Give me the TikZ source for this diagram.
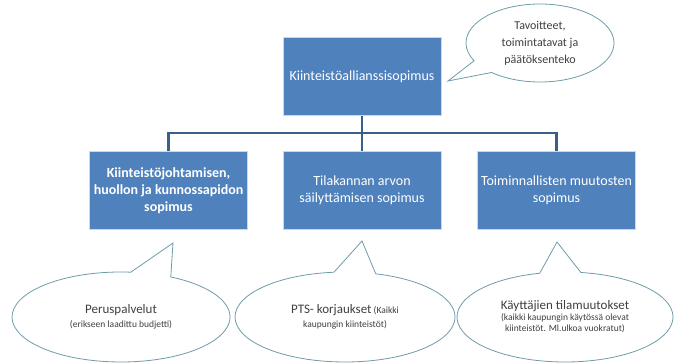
\documentclass[tikz,border=0pt]{standalone}
\usepackage{fontspec}
\setmainfont{Carlito}
\usetikzlibrary{shapes.callouts}
\definecolor{boxblue}{HTML}{4F81BD}
\definecolor{linkblue}{HTML}{3A5F8B}
\definecolor{bubble}{HTML}{6E9CA8}
\definecolor{halo}{HTML}{C6D9F1}
\definecolor{bubbletext}{HTML}{404040}
\begin{document}
\begin{tikzpicture}[x=1pt,y=-1pt,
  box/.style={rectangle, fill=boxblue, draw=halo, line width=1pt,
    minimum width=158pt, minimum height=78pt, inner sep=1pt, align=center,
    text=white, font=\fontsize{14}{17}\selectfont},
  bubbleshape/.style={ellipse callout, draw=bubble, fill=white, line width=0.8pt,
    callout pointer arc=22, inner sep=0pt, align=center, text=bubbletext},
  link/.style={draw=linkblue, line width=2.5pt}]
\useasboundingbox (0,0) rectangle (675,363);
% boxes
\node[box] (top) at (362,77) {Kiinteistöallianssisopimus};
\node[box, font=\fontsize{14}{17}\selectfont\bfseries] (b1) at (168.5,190.5) {Kiinteistöjohtamisen,\\huollon ja kunnossapidon\\sopimus};
\node[box] (b2) at (362,190.5) {Tilakannan arvon\\säilyttämisen sopimus};
\node[box] (b3) at (556.5,190.5) {Toiminnallisten muutosten\\sopimus};
% connectors
\coordinate (j) at (362,133);
\draw[link] (top.south) -- (j);
\draw[link] (j) -| (b1.north);
\draw[link] (j) -| (b3.north);
\draw[link] (j) -- (b2.north);
% callouts
\coordinate (p0) at (448,81);
\coordinate (p1) at (173,243);
\coordinate (p2) at (362,241);
\coordinate (p3) at (557,242);
\node[bubbleshape, minimum width=148pt, minimum height=78pt,
  callout absolute pointer={(p0)}, font=\fontsize{12}{17}\selectfont] (c0) at (540,43)
  {Tavoitteet,\\toimintatavat ja\\päätöksenteko};
\node[bubbleshape, minimum width=218pt, minimum height=90pt,
  callout absolute pointer={(p1)}, font=\fontsize{9.5}{14}\selectfont] (c1) at (121,317)
  {{\fontsize{13}{15}\selectfont Peruspalvelut}\\(erikseen laadittu budjetti)};
\node[bubbleshape, minimum width=220pt, minimum height=90pt,
  callout absolute pointer={(p2)}, font=\fontsize{9.5}{14}\selectfont] (c2) at (345,317)
  {{\fontsize{13}{15}\selectfont PTS- korjaukset} (Kaikki\\kaupungin kiinteistöt)};
\node[bubbleshape, minimum width=216pt, minimum height=90pt,
  callout absolute pointer={(p3)}, font=\fontsize{9.5}{11}\selectfont] (c3) at (565,317)
  {{\fontsize{13}{15}\selectfont Käyttäjien tilamuutokset}\\(kaikki kaupungin käytössä olevat\\kiinteistöt. Ml.ulkoa vuokratut)};
\end{tikzpicture}
\end{document}
